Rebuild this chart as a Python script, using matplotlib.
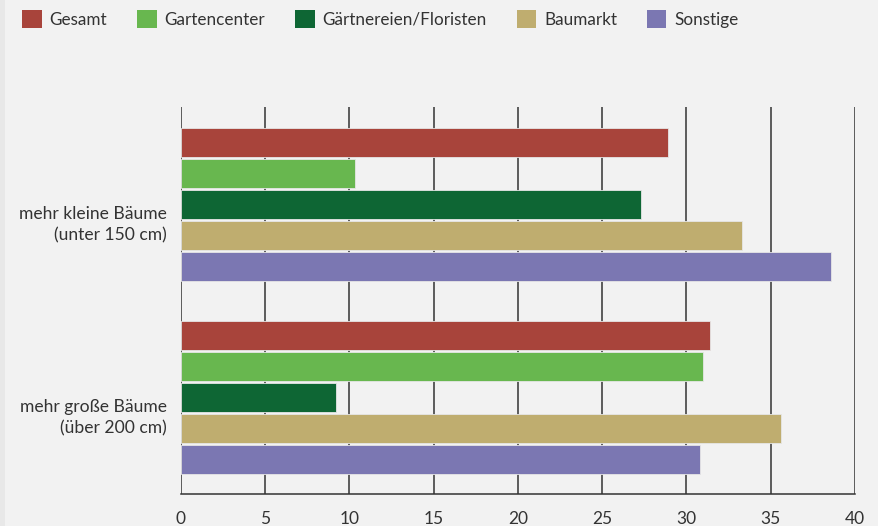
import matplotlib
matplotlib.use("Agg")
import matplotlib.pyplot as plt
import matplotlib.transforms as mtransforms
from matplotlib.patches import Patch, Rectangle
import numpy as np

plt.rcParams['font.family'] = ['Lato', 'DejaVu Sans']

categories = ["mehr kleine Bäume\n(unter 150 cm)", "mehr große Bäume\n(über 200 cm)"]
series_names = ["Gesamt", "Gartencenter", "Gärtnereien/Floristen", "Baumarkt", "Sonstige"]
gesamt = [28.9, 31.4]
gartencenter = [10.3, 31.0]
gaertnereien = [27.3, 9.2]
baumarkt = [33.3, 35.6]
sonstige = [38.6, 30.8]
series_values = [gesamt, gartencenter, gaertnereien, baumarkt, sonstige]
colors = ["#a8443b", "#68b74f", "#0e6634", "#bfad6f", "#7b77b2"]
xticks = [0, 5, 10, 15, 20, 25, 30, 35, 40]

bg = "#f2f2f2"
fig = plt.figure(figsize=(8.79, 5.26), dpi=100, facecolor=bg)
fig.patches.append(Rectangle((0, 0), 5/879, 1, transform=fig.transFigure,
                             facecolor="#e8e8e8", edgecolor="none", zorder=0))
ax = fig.add_axes([181/879, 1-494/526, (855-181)/879, (494-107)/526])
ax.set_facecolor(bg)

step = 0.16
h = 0.15
centers = np.arange(len(categories))
for i, (name, vals, c) in enumerate(zip(series_names, series_values, colors)):
    ax.barh(centers + (i-2)*step, vals, height=h, color=c, edgecolor="#e6e6e6",
            linewidth=0.6, label=name, zorder=3)

ax.set_xlim(0, 40)
ax.set_ylim(1.5, -0.505)
ax.set_xticks(xticks)
ax.set_xticklabels([str(t) for t in xticks], fontsize=12.5, color="#333333")
for t in xticks:
    ax.axvline(t, color="#333333", lw=1.1, zorder=2)
for s in ["top", "right", "left"]:
    ax.spines[s].set_visible(False)
ax.spines["bottom"].set_color("#333333")
ax.spines["bottom"].set_linewidth(1.1)
ax.tick_params(axis="x", length=0, pad=12)
ax.tick_params(axis="y", length=0, pad=10)
ax.set_yticks(centers)
ax.set_yticklabels(categories, fontsize=12.6, color="#333333", ha="right", linespacing=1.4)
offset = mtransforms.ScaledTranslation(0, -16/100, fig.dpi_scale_trans)
for lab in ax.get_yticklabels():
    lab.set_transform(lab.get_transform() + offset)

handles = [Patch(facecolor=c, edgecolor="none", label=n) for n, c in zip(series_names, colors)]
fig.legend(handles=handles, loc="upper left", bbox_to_anchor=(7/879, 1+5/526), ncol=5,
           frameon=False, fontsize=12.3, handlelength=1.15, handleheight=1.2,
           handletextpad=0.45, columnspacing=1.75, labelcolor="#333333")

fig.savefig("out.png", dpi=100, facecolor=bg)
